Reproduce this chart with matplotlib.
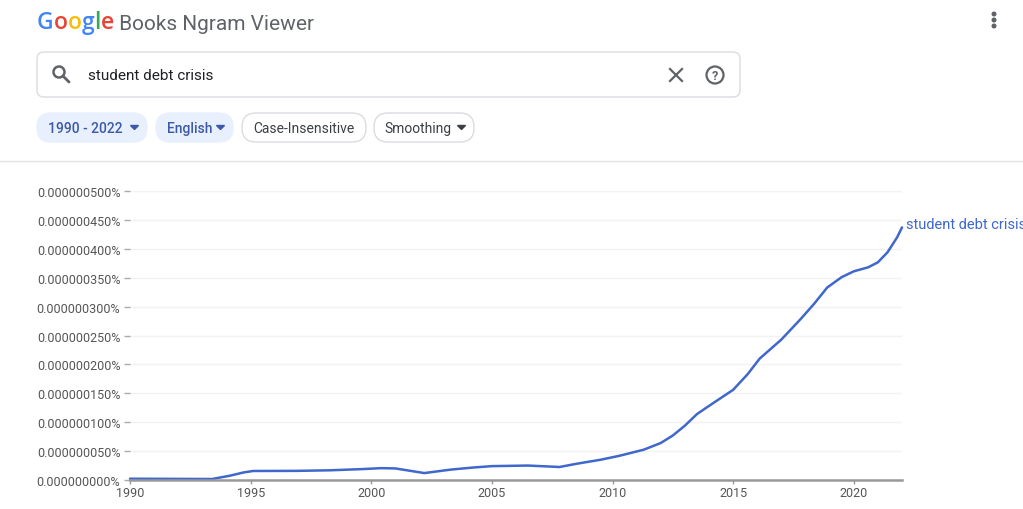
import numpy as np
import matplotlib
matplotlib.use("Agg")
import matplotlib.pyplot as plt
from matplotlib.patches import FancyBboxPatch, Circle
from matplotlib.ticker import FuncFormatter

plt.rcParams['font.family'] = ['Roboto', 'DejaVu Sans']

# ngram frequency of "student debt crisis" (units of 1e-6 %)
years = [1990, 1991.5, 1993.4, 1994.15, 1994.7, 1995.1, 1996.9, 1998.3, 1999.7,
         2000.4, 2001.0, 2001.6, 2002.2, 2003.3, 2004.2, 2005.0, 2006.5, 2007.8,
         2008.5, 2009.5, 2010.3, 2011.3, 2012.0, 2012.5, 2013.0, 2013.5, 2014.1,
         2015.0, 2015.6, 2016.1, 2017.0, 2017.8, 2018.35, 2018.9, 2019.5, 2020.0,
         2020.6, 2021.0, 2021.4, 2021.8, 2022.0]
freq = [0.0022, 0.0020, 0.0017, 0.0075, 0.0130, 0.0156, 0.0158, 0.0168, 0.0190,
        0.0205, 0.0200, 0.0160, 0.0120, 0.0180, 0.0215, 0.0240, 0.0250, 0.0225,
        0.0280, 0.0350, 0.0420, 0.0525, 0.0640, 0.0770, 0.0940, 0.1140, 0.1310,
        0.1560, 0.1830, 0.2100, 0.2430, 0.2785, 0.3045, 0.3330, 0.3510, 0.3610,
        0.3680, 0.3766, 0.3940, 0.4200, 0.4370]
freq = [v * 1e-6 for v in freq]
series_name = "student debt crisis"
query = "student debt crisis"
chips = ["1990 - 2022", "English", "Case-Insensitive", "Smoothing"]

blue = "#3f67cc"
grey_txt = "#5f6368"

fig = plt.figure(figsize=(10.23, 5.10), dpi=100)
ui = fig.add_axes([0, 0, 1, 1])
ui.set_xlim(0, 1023)
ui.set_ylim(510, 0)
ui.axis("off")

# header
g_colors = ["#4285f4", "#ea4335", "#fbbc05", "#4285f4", "#34a853", "#ea4335"]
prev = ui.text(37, 29, "G", color=g_colors[0], fontsize=16.5, fontweight="semibold",
               va="baseline", family=["Open Sans", "DejaVu Sans"])
for ch, c in zip("oogle", g_colors[1:]):
    prev = ui.annotate(ch, xy=(1, 0), xycoords=prev, color=c, fontsize=16.5,
                       fontweight="semibold", va="bottom",
                       family=["Open Sans", "DejaVu Sans"])
ui.annotate(" Books Ngram Viewer", xy=(1, 0), xycoords=prev, color=grey_txt,
            fontsize=15, va="bottom", xytext=(0, 1), textcoords="offset pixels")
for dy in (15, 21, 27):
    ui.add_patch(Circle((994, dy), 1.8, color=grey_txt))

# search box
ui.add_patch(FancyBboxPatch((37, 53), 703, 45, boxstyle="round,pad=0,rounding_size=7",
                            fc="white", ec="#dadce0", lw=1))
ui.add_patch(Circle((59, 73), 5.5, fc="none", ec=grey_txt, lw=1.8))
ui.plot([63, 69], [77, 83], color=grey_txt, lw=2, solid_capstyle="round")
ui.text(88, 76, query, fontsize=11, color="#202124", va="center")
ui.plot([670, 682], [70, 82], color=grey_txt, lw=1.6)
ui.plot([670, 682], [82, 70], color=grey_txt, lw=1.6)
ui.add_patch(Circle((715, 76), 8.5, fc="none", ec=grey_txt, lw=1.6))
ui.text(715, 76.5, "?", fontsize=9, color=grey_txt, ha="center", va="center",
        fontweight="bold")

# chips
chip_x = [37, 156, 242, 374]
chip_w = [110, 77, 124, 100]
for i, (label, x0, w) in enumerate(zip(chips, chip_x, chip_w)):
    active = i < 2
    ui.add_patch(FancyBboxPatch((x0, 114), w, 29, boxstyle="round,pad=0,rounding_size=14",
                                fc="#e8f0fe" if active else "white",
                                ec="#e8f0fe" if active else "#dadce0", lw=1))
    col = "#3c5aa6" if active else "#3c4043"
    has_arrow = label != "Case-Insensitive"
    tx = x0 + 10.5 if has_arrow else x0 + w / 2
    ui.text(tx, 129, label, fontsize=10, color=col, va="center",
            ha="left" if has_arrow else "center",
            fontweight="medium" if active else "normal")
    if has_arrow:
        ax_ = x0 + w - 12.5
        ui.fill([ax_ - 4, ax_ + 4, ax_], [126.5, 126.5, 130.5], color=col)

ui.plot([0, 1023], [162, 162], color="#e3e3e3", lw=1)

# chart
ax = fig.add_axes([130 / 1023, 29 / 510, 772 / 1023, 289 / 510])
ax.patch.set_alpha(0)
ax.plot(years, freq, color=blue, lw=1.8, solid_capstyle="round",
        solid_joinstyle="round", clip_on=False)
ax.set_xlim(1990, 2022)
ax.set_ylim(0, 0.0000005)
ax.set_yticks(np.arange(0, 0.00000051, 0.00000005))
ax.set_xticks(range(1990, 2021, 5))
ax.yaxis.set_major_formatter(FuncFormatter(lambda v, p: "{:.9f}%".format(v)))
ax.grid(axis="y", color="#f2f2f2", lw=1)
ax.set_axisbelow(True)
for s in ("top", "right", "left"):
    ax.spines[s].set_visible(False)
ax.spines["bottom"].set_color("#999999")
ax.spines["bottom"].set_linewidth(1.8)
ax.tick_params(axis="y", length=4, width=1, color="#aaaaaa", pad=3,
               labelsize=9, labelcolor="#555555")
ax.tick_params(axis="x", length=3, width=1, color="#999999", pad=1,
               labelsize=9, labelcolor="#555555")
# series label runs off the right edge, as in the reference
ax.annotate(series_name, xy=(years[-1], freq[-1]), xytext=(4, 3),
            textcoords="offset pixels", color=blue, fontsize=10.5,
            va="center", ha="left", annotation_clip=False)

fig.savefig("out.png", dpi=100)
